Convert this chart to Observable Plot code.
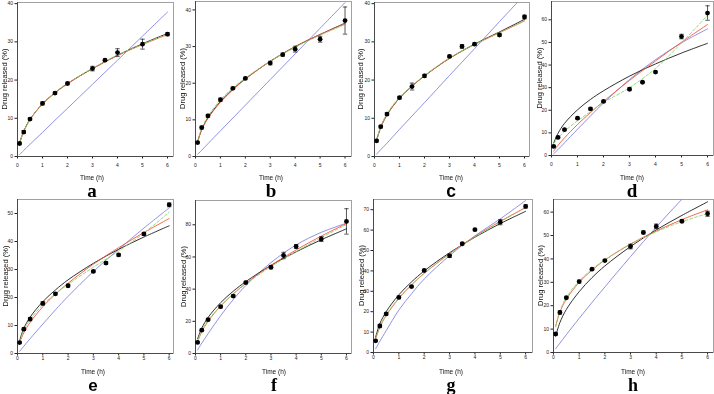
<!DOCTYPE html>
<html><head><meta charset="utf-8">
<script src="https://cdn.jsdelivr.net/npm/d3@7"></script>
<script src="https://cdn.jsdelivr.net/npm/@observablehq/plot@0.6"></script>
<style>
body{margin:0;background:#fff}
#wrap{position:relative;width:714px;height:394px;overflow:hidden;background:#fff}
#wrap svg.panel{position:absolute;overflow:visible}
#overlay{position:absolute;left:0;top:0;opacity:0.999;will-change:transform}
</style></head><body><div id="wrap"></div>
<script>
// sampling times (h)
const times = [0.083,0.25,0.5,1,1.5,2,3,3.5,4,5,6];
const fitTimes = [0.083,0.25,0.5,1,1.5,2,3,4,5,6];
const xTicks = [0,1,2,3,4,5,6];

// panel a
const aMean = [3.4,6.4,9.8,13.9,16.6,19.1,23.0,25.2,27.2,29.4,32.0];
const aErr  = [0.3,0.4,0.3,0.4,0.3,0.3,0.6,0.3,1.0,1.3,0.4];
const aBlue = [0.5,1.6,3.2,6.3,9.5,12.6,18.9,25.2,31.5,37.8];
const aBlack= [3.5,6.6,9.7,13.8,16.7,19.1,23.0,26.5,29.5,32.2];
const aRed  = [3.7,6.6,9.7,13.7,16.6,19.0,23.0,26.4,29.3,31.9];
const aGreen= [3.6,6.5,9.6,13.8,16.7,19.1,23.1,26.5,29.4,32.0];
// panel b
const bMean = [3.8,7.9,11.1,15.5,18.6,21.3,25.5,27.8,29.3,32.0,37.1];
const bErr  = [0.3,0.4,0.4,0.4,0.3,0.3,0.5,0.4,0.8,0.8,3.7];
const bBlue = [0.6,1.7,3.5,7.0,10.5,14.0,21.0,28.0,35.0,42.0];
const bBlack= [3.9,7.4,10.6,15.0,18.4,21.2,26.0,30.0,33.3,36.4];
const bRed  = [4.2,7.3,10.4,14.8,18.2,21.1,26.0,30.0,33.3,36.2];
const bGreen= [4.1,7.7,11.0,15.4,18.7,21.4,26.0,29.8,33.1,36.0];
// panel c
const cMean = [4.1,7.8,11.1,15.4,18.3,21.1,26.2,28.8,29.4,31.8,36.5];
const cErr  = [0.3,0.3,0.4,0.3,0.9,0.4,0.3,0.5,0.3,0.3,0.5];
const cBlue = [0.6,1.8,3.5,7.1,10.6,14.1,21.2,28.2,35.3,42.3];
const cBlack= [4.2,7.6,10.9,15.3,18.4,21.1,25.7,29.4,32.6,35.9];
const cRed  = [4.4,7.7,11.0,15.3,18.4,21.1,25.7,29.3,32.4,35.5];
const cGreen= [4.3,7.8,11.2,15.5,18.5,21.2,25.8,29.3,32.4,35.4];
// panel d
const dMean = [4.0,8.0,11.4,16.5,20.6,23.9,29.3,32.4,36.9,52.6,63.0];
const dErr  = [0.3,0.4,0.4,0.4,0.4,0.4,0.6,0.3,0.4,1.0,3.2];
const dBlue = [0.8,2.6,5.6,11.6,17.5,23.2,33.6,42.4,49.8,56.0];
const dBlack= [5.5,9.8,14.2,20.2,24.8,28.6,35.1,40.5,45.3,49.6];
const dRed  = [1.9,4.5,7.8,13.7,19.0,23.9,33.2,41.8,50.1,57.9];
const dGreen= [5.3,7.6,10.7,15.3,19.4,23.4,30.0,38.5,49.8,62.0];
// panel e
const eMean = [3.9,8.7,12.3,17.9,21.3,24.2,29.3,32.3,35.2,42.7,53.1];
const eErr  = [0.3,0.4,0.6,0.6,0.4,0.5,0.3,0.5,0.4,0.5,0.7];
const eBlue = [0.8,2.6,5.3,10.5,15.6,20.4,29.3,37.2,44.8,52.0];
const eBlack= [4.6,9.0,13.0,18.5,22.7,26.3,32.2,37.2,41.6,45.6];
const eRed  = [3.9,7.4,11.1,16.7,21.2,25.1,31.9,37.8,43.2,48.2];
const eGreen= [4.2,8.4,12.1,17.4,21.3,24.7,30.8,36.6,43.0,50.5];
// panel f
const fMean = [6.9,14.5,21.0,29.1,35.7,44.1,53.6,60.9,66.5,71.1,82.1];
const fErr  = [0.5,0.6,0.6,0.7,0.7,0.8,1.0,2.0,1.2,1.5,7.9];
const fBlue = [2.2,6.4,12.3,23.5,33.5,42.3,56.5,67.5,75.3,81.0];
const fBlack= [9.1,15.8,22.4,31.6,38.7,44.7,54.8,63.2,70.7,77.5];
const fRed  = [7.3,13.5,20.0,29.5,37.1,43.6,54.8,64.4,73.0,80.8];
const fGreen= [7.8,14.2,20.6,29.6,36.9,43.2,54.0,63.4,72.0,80.2];
// panel g
const gMean = [5.7,13.0,18.9,27.0,32.3,40.2,47.4,53.3,60.2,63.9,71.6];
const gErr  = [0.4,0.8,0.6,0.6,0.5,0.5,0.8,0.5,0.5,1.3,0.8];
const gBlue = [1.8,5.5,10.7,20.8,28.8,36.0,47.5,57.2,65.5,74.5];
const gBlack= [7.5,14.1,20.0,28.3,34.6,40.0,48.9,56.5,63.2,69.2];
const gRed  = [6.7,12.3,18.1,26.5,33.1,38.8,48.5,56.9,64.3,71.1];
const gGreen= [6.2,12.6,18.5,26.8,33.2,38.8,48.3,56.6,64.0,71.0];
// panel h
const hMean = [7.9,17.1,23.4,30.3,35.6,39.3,45.3,51.3,53.9,56.1,59.3];
const hErr  = [0.5,0.7,0.4,0.6,0.4,0.4,1.0,0.6,1.0,0.6,1.1];
const hBlue = [1.6,4.0,7.6,14.6,21.4,28.0,41.0,53.6,65.5,76.5];
const hBlack= [7.0,12.8,18.4,26.0,32.0,37.0,45.3,52.4,58.6,64.4];
const hRed  = [11.2,17.3,22.8,30.0,35.2,39.5,46.4,51.9,56.8,61.0];
const hGreen= [11.0,17.8,23.5,30.6,35.6,39.6,46.2,51.6,55.9,59.4];

const yLabel = "Drug released (%)";
const xLabel = "Time (h)";
const letters = ["a","b","c","d","e","f","g","h"];

const yTicksA = [0,10,20,30,40];
const yTicksD = [0,10,20,30,40,50,60];
const yTicksE = [0,10,20,30,40,50];
const yTicksF = [0,20,40,60,80];
const yTicksG = [0,10,20,30,40,50,60,70];
const yTicksH = [0,10,20,30,40,50,60];

// layout (page pixels of each plot frame)
const panels = [
  {L:17,  T:2,   R:173, B:156, xmax:6.24, ymax:40.3, yt:yTicksA, d:[aMean,aErr,aBlue,aBlack,aRed,aGreen], cx:92,  yl:4.5, row:0, serif:true},
  {L:195, T:1,   R:351, B:156, xmax:6.26, ymax:42.3, yt:yTicksA, d:[bMean,bErr,bBlue,bBlack,bRed,bGreen], cx:271, yl:182, row:0, serif:true},
  {L:374, T:2,   R:529, B:156, xmax:6.2,  ymax:40.3, yt:yTicksA, d:[cMean,cErr,cBlue,cBlack,cRed,cGreen], cx:451, yl:360, row:0, serif:false},
  {L:551, T:1,   R:713, B:155, xmax:6.23, ymax:68.1, yt:yTicksD, d:[dMean,dErr,dBlue,dBlack,dRed,dGreen], cx:632, yl:539, row:0, serif:true},
  {L:17,  T:199, R:173, B:353, xmax:6.17, ymax:55,   yt:yTicksE, d:[eMean,eErr,eBlue,eBlack,eRed,eGreen], cx:93,  yl:5,   row:1, serif:false},
  {L:195, T:200, R:351, B:353, xmax:6.2,  ymax:95.1, yt:yTicksF, d:[fMean,fErr,fBlue,fBlack,fRed,fGreen], cx:274, yl:183, row:1, serif:true},
  {L:373, T:199, R:532, B:352, xmax:6.27, ymax:75,   yt:yTicksG, d:[gMean,gErr,gBlue,gBlack,gRed,gGreen], cx:451, yl:361, row:1, serif:true},
  {L:553, T:199, R:713, B:352, xmax:6.23, ymax:65.4, yt:yTicksH, d:[hMean,hErr,hBlue,hBlack,hRed,hGreen], cx:633, yl:540, row:1, serif:true}
];

const capSymbol = {draw(ctx, size){ const r = Math.sqrt(size/Math.PI); ctx.moveTo(-r,0); ctx.lineTo(r,0); }};
const colors = {blue:"#8585dc", black:"#1a1a1a", red:"#f0583a", green:"#8ed36f"};

const wrap = document.getElementById("wrap");
const ml = 22, mr = 2, mt = 2, mb = 14;

panels.forEach((p, k) => {
  const [mean, err, blue, black, red, green] = p.d;
  const pts = times.map((t,i) => ({t, m: mean[i], e: err[i]}));
  const fit = arr => fitTimes.map((t,i) => ({t, v: arr[i]}));
  const line = (arr, stroke, extra={}) => Plot.line(fit(arr), {x:"t", y:"v", stroke, strokeWidth:0.9, curve:"catmull-rom", clip:true, ...extra});
  const chart = Plot.plot({
    width: p.R - p.L + ml + mr,
    height: p.B - p.T + mt + mb,
    marginLeft: ml, marginRight: mr, marginTop: mt, marginBottom: mb,
    x: {domain:[0,p.xmax], ticks:xTicks, tickSize:2.5, tickPadding: p.row===0 ? 4 : 0.5, tickFormat:d=>String(d), label:null},
    y: {domain:[0,p.ymax], ticks:p.yt, tickSize:2.5, tickPadding:2, tickFormat:d=>String(d), label:null},
    style: {fontSize:"5px", fontFamily:"'Liberation Sans', Arial, sans-serif", color:"#222", background:"transparent", overflow:"visible"},
    marks: [
      Plot.frame({stroke:"#8a8a8a", strokeWidth:0.8}),
      Plot.ruleX([0], {stroke:"#333", strokeWidth:0.8}),
      Plot.ruleY([0], {stroke:"#333", strokeWidth:0.8}),
      line(blue, colors.blue),
      line(black, colors.black),
      line(red, colors.red),
      line(green, colors.green, {strokeDasharray:"3,2"}),
      Plot.ruleX(pts, {x:"t", y1:d=>d.m-d.e, y2:d=>d.m+d.e, stroke:"#111", strokeWidth:0.7}),
      Plot.dot(pts, {x:"t", y:d=>d.m+d.e, symbol:capSymbol, r:2.2, stroke:"#111", strokeWidth:0.7}),
      Plot.dot(pts, {x:"t", y:d=>d.m-d.e, symbol:capSymbol, r:2.2, stroke:"#111", strokeWidth:0.7}),
      Plot.dot(pts, {x:"t", y:"m", r:2.4, fill:"#000", stroke:"none"})
    ]
  });
  chart.classList.add("panel");
  chart.style.left = (p.L - ml) + "px";
  chart.style.top = (p.T - mt) + "px";
  wrap.appendChild(chart);
});

// overlay texts
const svg = d3.create("svg").attr("id","overlay").attr("width",714).attr("height",394);
panels.forEach((p, k) => {
  const timeY = p.row===0 ? 177.5 : 371;
  const base = p.row===0 ? 197 : 390.5;
  svg.append("text")
    .attr("transform", `translate(${p.yl},${(p.T+p.B)/2}) rotate(-90)`)
    .attr("text-anchor","middle").attr("dominant-baseline","central")
    .attr("font-family","'Liberation Sans', Arial, sans-serif").attr("font-size",7.5).attr("fill","#111")
    .text(yLabel);
  svg.append("text")
    .attr("x", p.cx).attr("y", timeY)
    .attr("text-anchor","middle").attr("dominant-baseline","central")
    .attr("font-family","'Liberation Sans', Arial, sans-serif").attr("font-size",6.5).attr("fill","#111")
    .text(xLabel);
  svg.append("text")
    .attr("x", p.cx).attr("y", base)
    .attr("text-anchor","middle")
    .attr("font-family", p.serif ? "'Liberation Serif', 'Times New Roman', serif" : "'Liberation Sans', Arial, sans-serif")
    .attr("font-weight","bold").attr("font-size", p.row===1 ? (p.serif ? 18 : 17) : (p.serif ? 19 : 17.5)).attr("fill","#000")
    .text(letters[k]);
});
wrap.appendChild(svg.node());
</script>
</body></html>
